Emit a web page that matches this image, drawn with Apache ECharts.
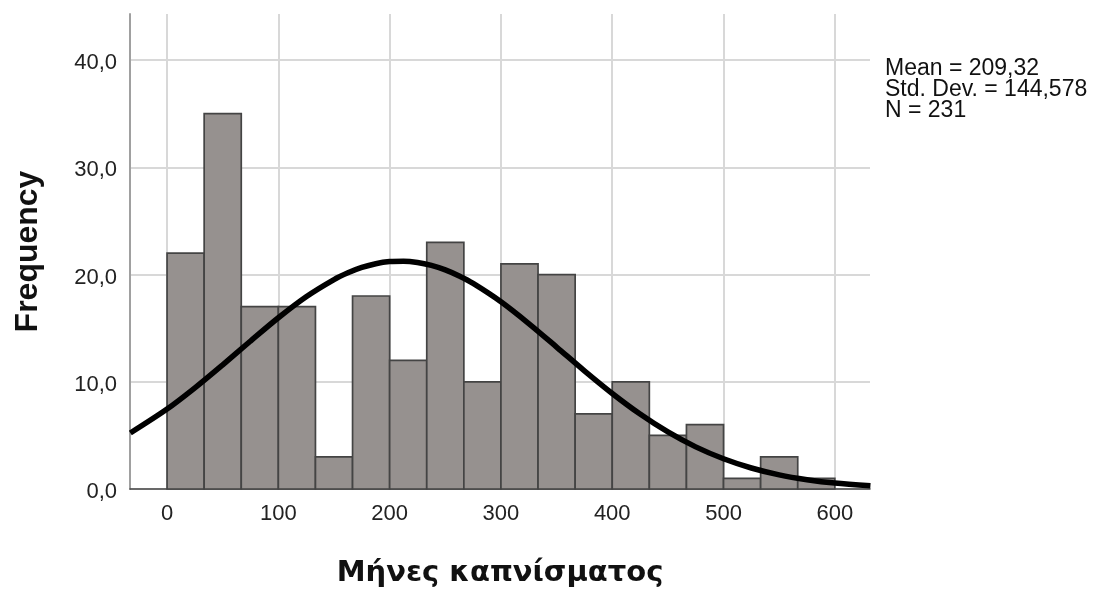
<!DOCTYPE html>
<html>
<head>
<meta charset="utf-8">
<script src="https://cdn.jsdelivr.net/npm/echarts@6/dist/echarts.min.js"></script>
<style>
html,body{margin:0;padding:0;background:#fff;overflow:hidden;}
#chart{width:1096px;height:590px;}
</style>
</head>
<body>
<div id="chart"></div>
<script>
// Histogram bins (lower edge, upper edge) and frequencies
const binStarts = [0, 33.33, 66.67, 100, 133.33, 166.67, 200, 233.33, 266.67, 300, 333.33, 366.67, 400, 433.33, 466.67, 500, 533.33, 566.67];
const binEnds   = [33.33, 66.67, 100, 133.33, 166.67, 200, 233.33, 266.67, 300, 333.33, 366.67, 400, 433.33, 466.67, 500, 533.33, 566.67, 600];
const frequencies = [22, 35, 17, 17, 3, 18, 12, 23, 10, 21, 20, 7, 10, 5, 6, 1, 3, 1];

// Normal curve points
const curveX = [-33, 0, 25, 50, 75, 100, 125, 150, 162.5, 175, 187.5, 200, 212.5, 225, 237.5, 250, 262.5, 275, 300, 325, 350, 375, 400, 425, 450, 475, 500, 525, 550, 575, 600, 632];
const curveY = [5.22, 7.45, 9.43, 11.58, 13.80, 15.97, 17.93, 19.53, 20.16, 20.66, 21.01, 21.21, 21.25, 21.13, 20.85, 20.43, 19.86, 19.17, 17.46, 15.43, 13.24, 11.02, 8.91, 6.99, 5.32, 3.93, 2.82, 1.96, 1.32, 0.87, 0.55, 0.30];

const xTicks = [0, 100, 200, 300, 400, 500, 600];
const yTicks = [0, 10, 20, 30, 40];
const statsLines = ['Mean = 209,32', 'Std. Dev. = 144,578', 'N = 231'];

const chart = echarts.init(document.getElementById('chart'));
const barData = frequencies.map((v, i) => [binStarts[i], binEnds[i], v]);
const lineData = curveX.map((x, i) => [x, curveY[i]]);

chart.setOption({
  animation: false,
  backgroundColor: '#ffffff',
  grid: { left: 130, right: 226, top: 14, bottom: 101, containLabel: false, outerBoundsMode: 'none' },
  xAxis: {
    type: 'value',
    min: -33.3,
    max: 631.6,
    name: 'Μήνες καπνίσματος',
    nameLocation: 'middle',
    nameGap: 70,
    nameMoveOverlap: false,
    nameTextStyle: { fontFamily: 'DejaVu Sans', fontWeight: 'bold', fontSize: 29, color: '#111' },
    axisLine: { show: true, onZero: false, lineStyle: { color: '#444', width: 1.5 } },
    axisTick: { show: false, customValues: xTicks },
    axisLabel: { customValues: xTicks, fontFamily: 'Liberation Sans', fontSize: 22, color: '#222', margin: 14 },
    splitLine: { show: true, lineStyle: { color: '#d8d8d8', width: 2 } }
  },
  yAxis: {
    type: 'value',
    min: 0,
    max: 44.3,
    name: 'Frequency',
    nameLocation: 'middle',
    nameGap: 86,
    nameRotate: 90,
    nameMoveOverlap: false,
    nameTextStyle: { fontFamily: 'Liberation Sans', fontWeight: 'bold', fontSize: 32, color: '#111' },
    axisLine: { show: true, onZero: false, lineStyle: { color: '#a0a0a0', width: 2 } },
    axisTick: { show: false, customValues: yTicks },
    axisLabel: {
      customValues: yTicks,
      fontFamily: 'Liberation Sans', fontSize: 22, color: '#222', margin: 13,
      verticalAlign: 'top',
      lineHeight: 6,
      formatter: v => v.toFixed(1).replace('.', ',')
    },
    splitLine: { show: true, lineStyle: { color: '#d8d8d8', width: 2 } }
  },
  graphic: [{
    type: 'text',
    left: 885,
    top: 57,
    style: {
      text: statsLines.join('\n'),
      font: '23px "Liberation Sans"',
      lineHeight: 21,
      fill: '#111'
    }
  }],
  series: [
    {
      type: 'custom',
      data: barData,
      encode: { x: [0, 1], y: 2 },
      renderItem: function (params, api) {
        const p0 = api.coord([api.value(0), 0]);
        const p1 = api.coord([api.value(1), api.value(2)]);
        return {
          type: 'rect',
          shape: { x: p0[0], y: p1[1], width: p1[0] - p0[0], height: p0[1] - p1[1] },
          style: { fill: '#96918f', stroke: '#444', lineWidth: 1.7 }
        };
      },
      z: 2
    },
    {
      type: 'line',
      data: lineData,
      smooth: 0.3,
      showSymbol: false,
      symbol: 'none',
      lineStyle: { color: '#000', width: 5.5 },
      clip: true,
      z: 3
    }
  ]
});
</script>
</body>
</html>
